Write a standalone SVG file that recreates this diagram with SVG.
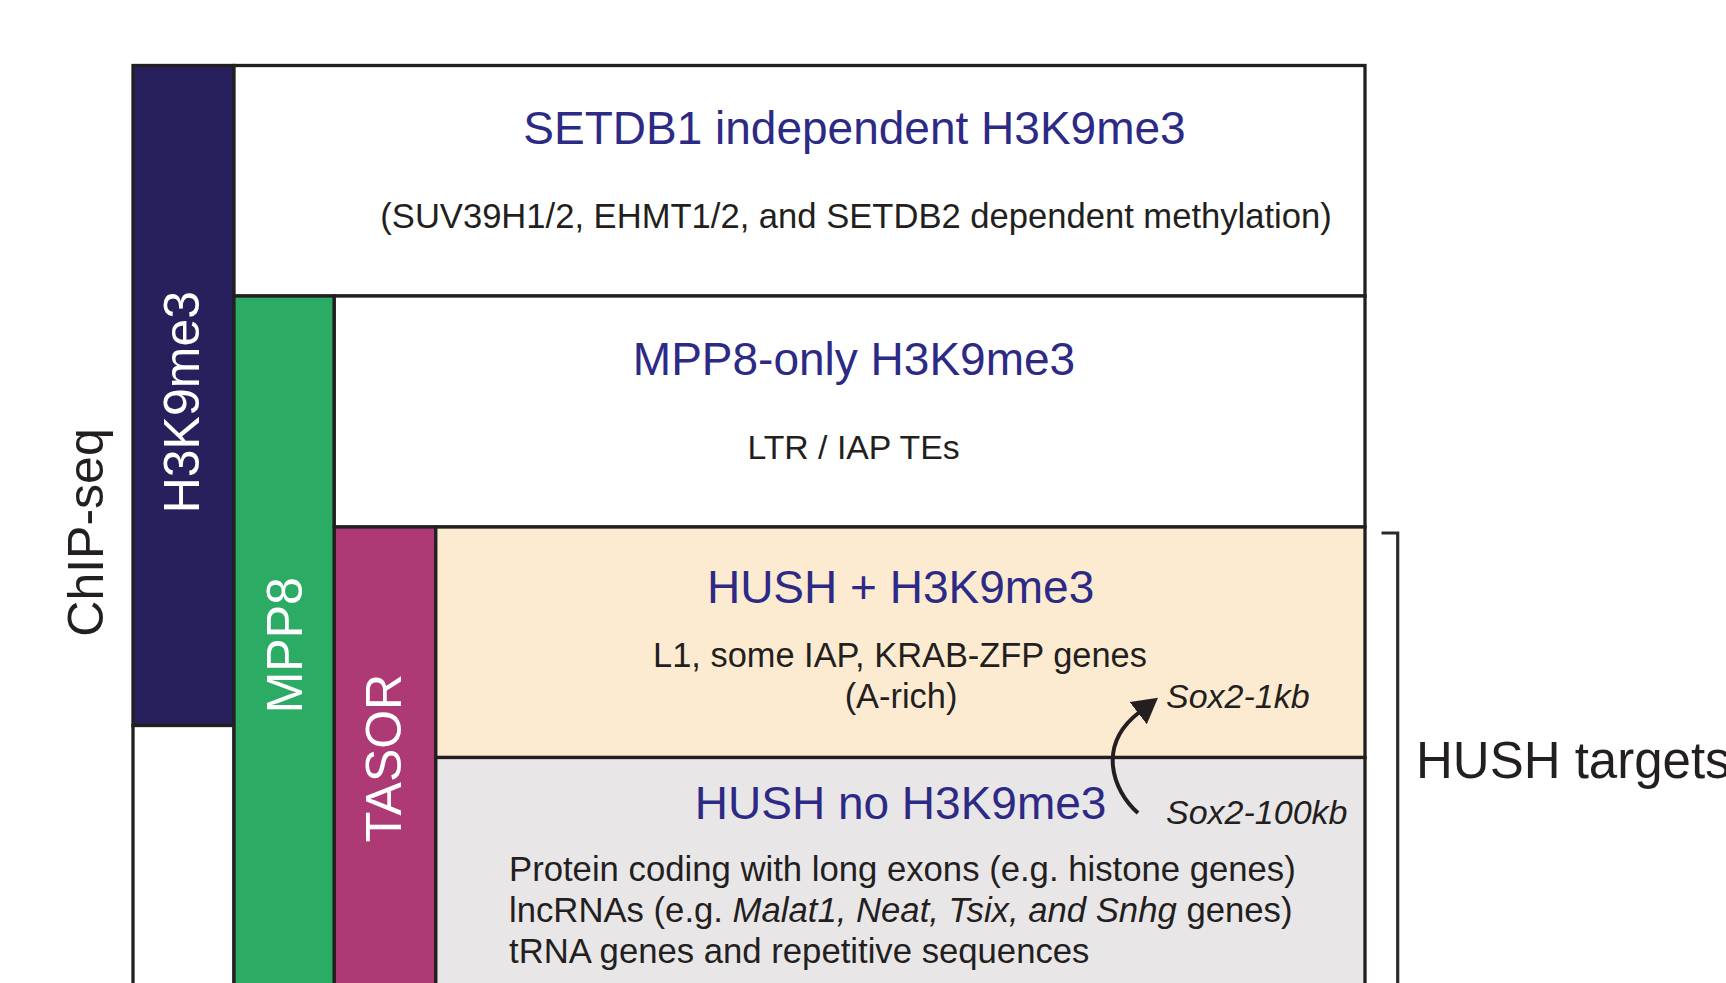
<svg xmlns="http://www.w3.org/2000/svg" width="1726" height="983" viewBox="0 0 1726 983">
<style>
  .box { stroke: #231F20; stroke-width: 3.3; }
  .t { font-family: "Liberation Sans", Arial, Helvetica, sans-serif; fill: #231F20; }
  .blue { fill: #2D2A86; font-size: 46px; text-anchor: middle; }
  .sub { font-size: 34.4px; text-anchor: middle; }
  .band { fill: #FFFFFF; font-size: 50px; }
  .it { font-style: italic; }
  .body { font-size: 34.7px; }
</style>
<defs>
  <marker id="ah" markerWidth="26" markerHeight="30" refX="1" refY="14" orient="auto" markerUnits="userSpaceOnUse">
    <path d="M0,0 L25,14 L0,28 z" fill="#231F20"/>
  </marker>
</defs>
<rect x="0" y="0" width="1726" height="983" fill="#FFFFFF"/>

<g id="band-h3k9me3">
  <rect class="box" x="133" y="65.5" width="101" height="660" fill="#28205C"/>
  <rect class="box" x="133" y="725.5" width="101" height="270" fill="#FFFFFF"/>
  <text class="t band" transform="translate(199,513.3) rotate(-90)">H3K9me3</text>
</g>

<g id="box-setdb1">
  <rect class="box" x="234" y="65.5" width="1131" height="230.5" fill="#FFFFFF"/>
  <text class="t blue" x="854.5" y="144">SETDB1 independent H3K9me3</text>
  <text class="t sub" x="856" y="227.5" style="font-size:34.6px">(SUV39H1/2, EHMT1/2, and SETDB2 dependent methylation)</text>
</g>

<g id="band-mpp8">
  <rect class="box" x="234" y="296" width="100.3" height="700" fill="#2BAB64"/>
  <text class="t band" transform="translate(302.3,713.3) rotate(-90)">MPP8</text>
</g>

<g id="box-mpp8-only">
  <rect class="box" x="334.3" y="296" width="1030.7" height="231" fill="#FFFFFF"/>
  <text class="t blue" x="854" y="375">MPP8-only H3K9me3</text>
  <text class="t sub" x="853.5" y="459" style="font-size:33.8px">LTR / IAP TEs</text>
</g>

<g id="band-tasor">
  <rect class="box" x="334.3" y="527" width="101.5" height="470" fill="#AD3A75"/>
  <text class="t band" transform="translate(400.7,842.3) rotate(-90)">TASOR</text>
</g>

<g id="box-hush-h3k9me3">
  <rect class="box" x="435.8" y="527" width="929.2" height="230.5" fill="#FDEBD1"/>
  <text class="t blue" x="900.6" y="603.3">HUSH + H3K9me3</text>
  <text class="t sub" x="900" y="667">L1, some IAP, KRAB-ZFP genes</text>
  <text class="t sub" x="901" y="707.5">(A-rich)</text>
  <text class="t it" x="1166" y="707.5" style="font-size:34px">Sox2-1kb</text>
</g>

<g id="box-hush-no">
  <rect class="box" x="435.8" y="757.5" width="929.2" height="240" fill="#E9E6E8"/>
  <text class="t blue" x="900.6" y="818.5">HUSH no H3K9me3</text>
  <text class="t it" x="1166" y="823.5" style="font-size:34px">Sox2-100kb</text>
  <text class="t body" x="509" y="880.5">Protein coding with long exons (e.g. histone genes)</text>
  <text class="t body" x="509" y="921.5">lncRNAs (e.g. <tspan class="it">Malat1, Neat, Tsix, and Snhg</tspan> genes)</text>
  <text class="t body" x="509" y="962.5">tRNA genes and repetitive sequences</text>
</g>

<g id="label-chipseq">
  <text class="t" transform="translate(102.6,636.7) rotate(-90)" style="font-size:50px">ChIP-seq</text>
</g>

<g id="label-hush-targets">
  <text class="t" x="1416" y="778.3" style="font-size:51px">HUSH targets</text>
</g>

<g id="connectors">
  <path d="M1138,813 C1112,790 1097,745 1139,712.5" fill="none" stroke="#231F20" stroke-width="4" marker-end="url(#ah)"/>
  <path d="M1381.5,533 H1397.7 V995" fill="none" stroke="#2E2A2C" stroke-width="3.2"/>
</g>
</svg>
